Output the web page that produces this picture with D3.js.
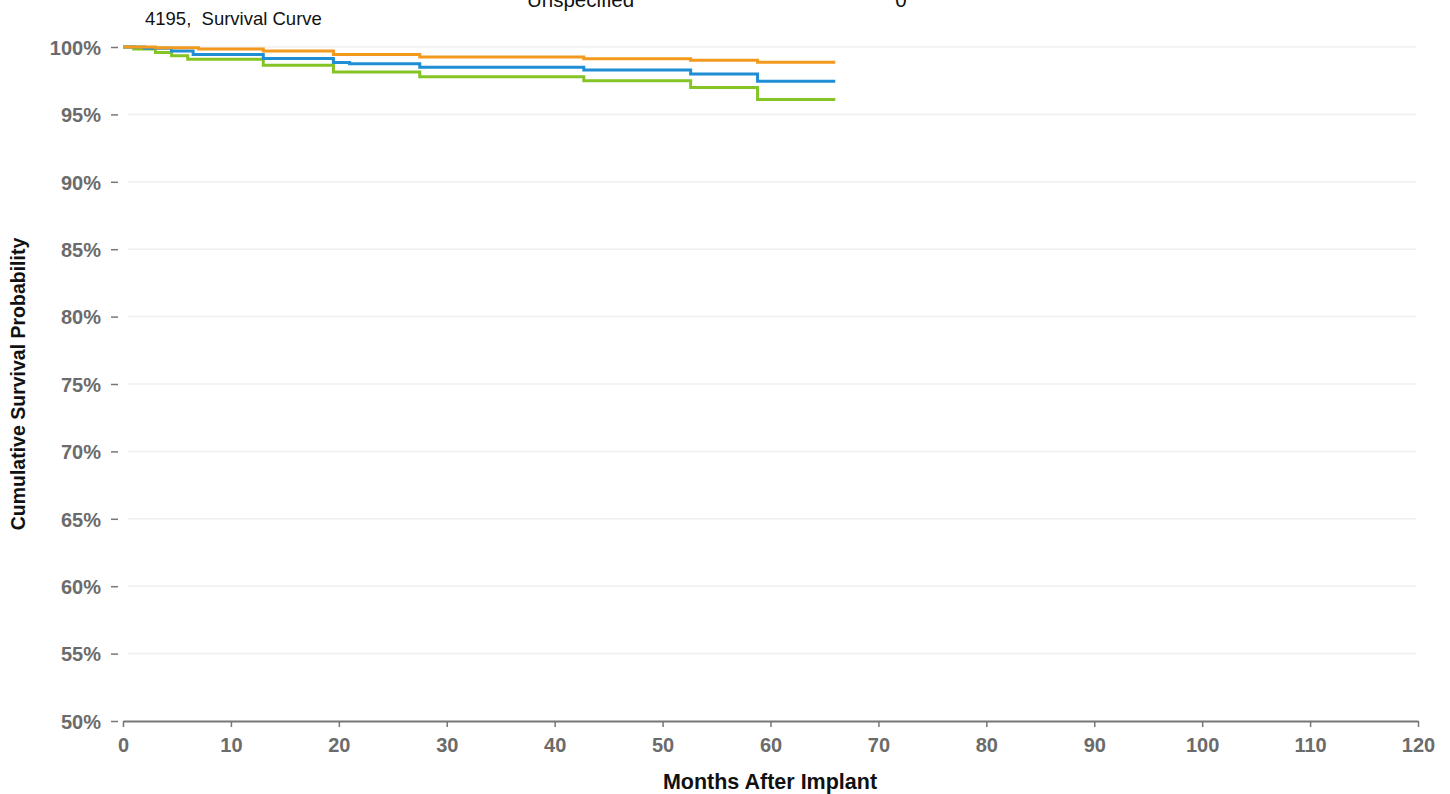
<!DOCTYPE html>
<html>
<head>
<meta charset="utf-8">
<script src="https://cdn.jsdelivr.net/npm/d3@7"></script>
<style>
  html, body { margin: 0; padding: 0; background: #fff; }
  svg { display: block; font-family: Arial, "Liberation Sans", sans-serif; }
</style>
</head>
<body>
<svg id="chart" width="1450" height="794"></svg>
<script>
// ---- Data ----
const chartTitle = "4195,  Survival Curve";
const headerLabel = "Unspecified";
const headerValue = "0";
const xTicks = [0, 10, 20, 30, 40, 50, 60, 70, 80, 90, 100, 110, 120];
const yTicks = [50, 55, 60, 65, 70, 75, 80, 85, 90, 95, 100];

// months at which each step occurs, and survival % after that step
const orangeMonths = [0, 3, 7, 13, 19.5, 27.5, 42.7, 52.6, 58.8, 66];
const orangeValues = [100, 99.95, 99.85, 99.7, 99.45, 99.25, 99.12, 99.02, 98.86, 98.86];

const blueMonths = [0, 2, 4.5, 6.5, 13, 19.5, 21, 27.5, 42.7, 52.6, 58.8, 66];
const blueValues = [100, 99.9, 99.7, 99.45, 99.15, 98.85, 98.75, 98.5, 98.3, 98.0, 97.45, 97.45];

const greenMonths = [0, 1, 3, 4.5, 6, 13, 19.5, 27.5, 42.7, 52.6, 58.8, 66];
const greenValues = [100, 99.85, 99.6, 99.35, 99.1, 98.65, 98.15, 97.8, 97.5, 97.0, 96.1, 96.1];

const seriesColors = ["#f39a1e", "#1f8ed5", "#84c425"];

// ---- Layout ----
const svg = d3.select("#chart");
const x = d3.scaleLinear().domain([0, 120]).range([123, 1418]);
const y = d3.scaleLinear().domain([50, 100]).range([721, 47]);

// gridlines
svg.append("g").selectAll("line").data(yTicks.slice(1)).join("line")
  .attr("x1", 128).attr("x2", 1416)
  .attr("y1", d => y(d)).attr("y2", d => y(d))
  .attr("stroke", "#f0f0f0").attr("stroke-width", 1.5);

// y axis (ticks only)
const yAxis = svg.append("g").attr("transform", "translate(118,0)")
  .call(d3.axisLeft(y).tickValues(yTicks).tickFormat(d => d + "%").tickSize(7).tickPadding(10));
yAxis.select(".domain").remove();
yAxis.selectAll(".tick line").attr("stroke", "#777").attr("stroke-width", 1.5);
yAxis.selectAll(".tick text").attr("fill", "#6b6b6b").style("font-size", "20px")
  .style("font-weight", "bold").attr("dy", "0.36em");

// x axis
const xAxis = svg.append("g").attr("transform", "translate(0,721)")
  .call(d3.axisBottom(x).tickValues(xTicks).tickSize(6).tickSizeOuter(0).tickPadding(11));
xAxis.select(".domain").attr("stroke", "#777").attr("stroke-width", 2);
xAxis.selectAll(".tick line").attr("stroke", "#777").attr("stroke-width", 1.5);
xAxis.selectAll(".tick text").attr("fill", "#6b6b6b").style("font-size", "20px")
  .style("font-weight", "bold");

// curves
const line = d3.line().x(d => x(d[0])).y(d => y(d[1])).curve(d3.curveStepAfter);
const series = [
  { m: greenMonths, v: greenValues, c: seriesColors[2] },
  { m: blueMonths, v: blueValues, c: seriesColors[1] },
  { m: orangeMonths, v: orangeValues, c: seriesColors[0] }
];
series.forEach(s => {
  svg.append("path")
    .datum(s.m.map((m, i) => [m, s.v[i]]))
    .attr("d", line)
    .attr("fill", "none")
    .attr("stroke", s.c)
    .attr("stroke-width", 3);
});

// titles
svg.append("text").attr("x", 145).attr("y", 25).text(chartTitle)
  .style("white-space", "pre").attr("xml:space", "preserve")
  .style("font-size", "18.5px").attr("fill", "#111");
svg.append("text").attr("x", 527).attr("y", 7).text(headerLabel)
  .style("font-size", "20.5px").attr("fill", "#111");
svg.append("text").attr("x", 901).attr("y", 7).attr("text-anchor", "middle").text(headerValue)
  .style("font-size", "20.5px").attr("fill", "#111");

svg.append("text").attr("x", 770).attr("y", 789).attr("text-anchor", "middle")
  .text("Months After Implant").style("font-size", "21.5px").style("font-weight", "bold").attr("fill", "#111");
svg.append("text").attr("transform", "translate(25,384) rotate(-90)").attr("text-anchor", "middle")
  .text("Cumulative Survival Probability").style("font-size", "19.5px").style("font-weight", "bold").attr("fill", "#111");
</script>
</body>
</html>
